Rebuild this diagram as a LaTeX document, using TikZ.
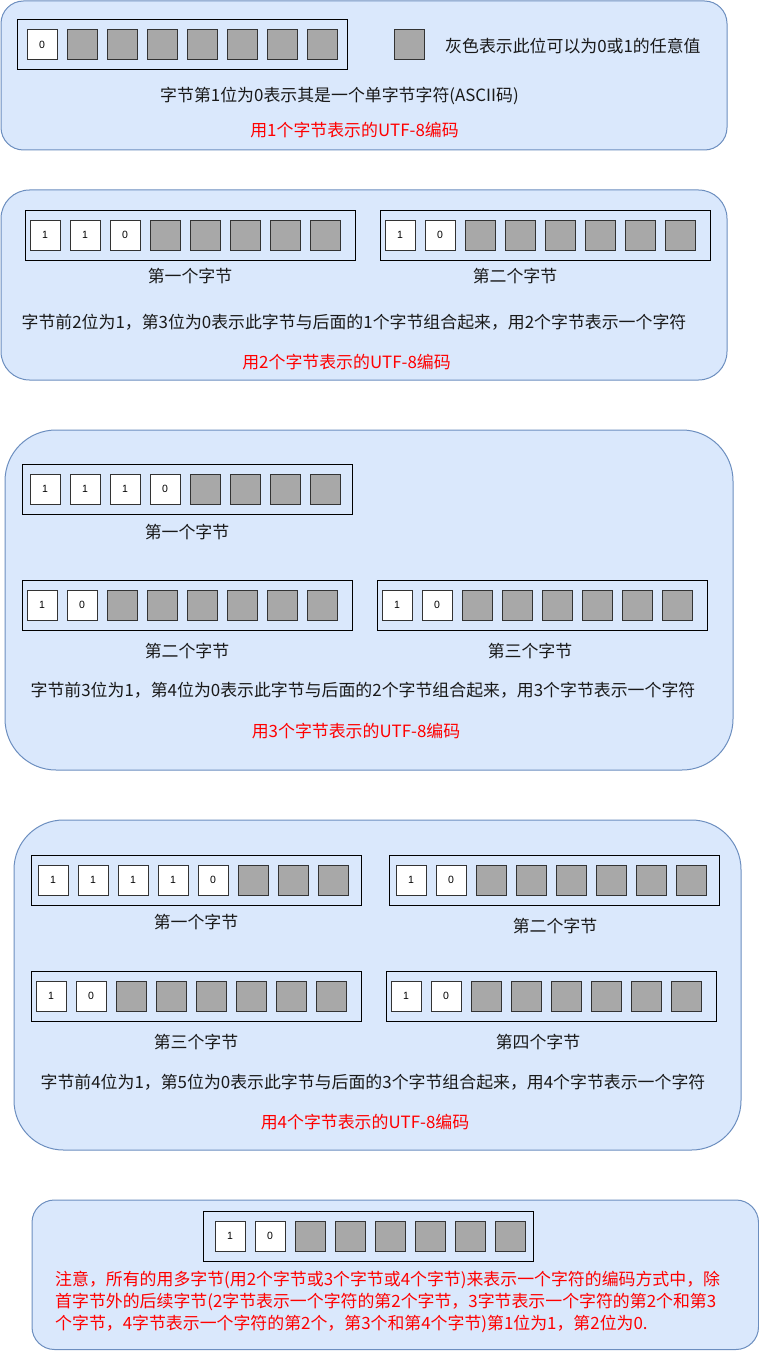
\documentclass[tikz,border=0pt]{standalone}
\usepackage{fontspec}
\setmainfont{Noto Sans CJK SC}
\newfontfamily\latfont{Liberation Sans}
\definecolor{panelfill}{HTML}{DAE8FC}
\definecolor{panelline}{HTML}{6C8EBF}
\definecolor{cellgray}{HTML}{A8A8A8}
\definecolor{redtxt}{HTML}{FF0000}
\tikzset{
  panel/.style={draw=panelline, fill=panelfill, line width=1pt},
  bytebox/.style={draw=black, line width=1pt, minimum width=330pt, minimum height=50pt, inner sep=0pt, outer sep=0pt},
  bitcell/.style={draw=black!80, line width=1pt, fill=white, minimum width=30pt, minimum height=30pt, inner sep=0pt, outer sep=0pt, font=\latfont\fontsize{10.5}{12}\selectfont},
  graycell/.style={bitcell, fill=cellgray},
  txt/.style={inner sep=0pt, font=\fontsize{16.9}{20}\selectfont, text=black!90},
  redlabel/.style={txt, text=redtxt},
}
% #1 name, #2 box left, #3 box top, #4 first cell offset, #5 number of white cells, #6 bits
\newcommand\mybyte[6]{%
  \node[bytebox, anchor=north west] (#1) at (#2,#3) {};
  \foreach \b [count=\i from 0] in {#6} {
    \node[bitcell, anchor=north west] (#1-\i) at ({#2+#4+40*\i},{#3+10}) {\b};
  }
  \foreach \i in {#5,...,7} {
    \node[graycell, anchor=north west] (#1-\i) at ({#2+#4+40*\i},{#3+10}) {};
  }
}
\begin{document}
\begin{tikzpicture}[x=1pt,y=-1pt]
\useasboundingbox (0,0) rectangle (759,1351);

% ---------- panel 1
\draw[panel, rounded corners=22.5pt] (1,1) rectangle (727,150);
\mybyte{a}{17}{20}{10}{1}{0}
\node[graycell, anchor=north west] (legcell) at (394,30) {};
\node[txt, anchor=west] (legtxt) at (445,46) {灰色表示此位可以为0或1的任意值};
\node[txt] (t1) at (339.5,96) {字节第1位为0表示其是一个单字节字符(ASCII码)};
\node[redlabel] (r1) at (354.5,130) {用1个字节表示的UTF-8编码};

% ---------- panel 2
\draw[panel, rounded corners=28.5pt] (1,190) rectangle (727,380);
\mybyte{b1}{25}{210}{5}{3}{1,1,0}
\mybyte{b2}{380}{210}{5}{2}{1,0}
\node[txt] (b1l) at (190,276) {第一个字节};
\node[txt] (b2l) at (515,276) {第二个字节};
\node[txt] (t2) at (354,322) {字节前2位为1，第3位为0表示此字节与后面的1个字节组合起来，用2个字节表示一个字符};
\node[redlabel] (r2) at (346.5,362) {用2个字节表示的UTF-8编码};

% ---------- panel 3
\draw[panel, rounded corners=51pt] (5,430) rectangle (733,770);
\mybyte{c1}{22}{464}{8}{4}{1,1,1,0}
\mybyte{c2}{22}{580}{5}{2}{1,0}
\mybyte{c3}{377}{580}{5}{2}{1,0}
\node[txt] (c1l) at (187,532) {第一个字节};
\node[txt] (c2l) at (187,651) {第二个字节};
\node[txt] (c3l) at (530,651) {第三个字节};
\node[txt] (t3) at (363,690) {字节前3位为1，第4位为0表示此字节与后面的2个字节组合起来，用3个字节表示一个字符};
\node[redlabel] (r3) at (356,731) {用3个字节表示的UTF-8编码};

% ---------- panel 4
\draw[panel, rounded corners=49.5pt] (14,820) rectangle (741,1150);
\mybyte{d1}{31}{855}{7}{5}{1,1,1,1,0}
\mybyte{d2}{389}{855}{7}{2}{1,0}
\mybyte{d3}{31}{971}{5}{2}{1,0}
\mybyte{d4}{386}{971}{5}{2}{1,0}
\node[txt] (d1l) at (196,922) {第一个字节};
\node[txt] (d2l) at (555,926) {第二个字节};
\node[txt] (d3l) at (196,1042) {第三个字节};
\node[txt] (d4l) at (538,1042) {第四个字节};
\node[txt] (t4) at (373,1082) {字节前4位为1，第5位为0表示此字节与后面的3个字节组合起来，用4个字节表示一个字符};
\node[redlabel] (r4) at (365,1122) {用4个字节表示的UTF-8编码};

% ---------- panel 5
\draw[panel, rounded corners=22.5pt] (32,1200) rectangle (758.5,1349.5);
\mybyte{e1}{203}{1211}{12}{2}{1,0}
\node[redlabel, anchor=west, align=left, font=\fontsize{16.9}{21.7}\selectfont] (note) at (55,1302) {注意，所有的用多字节(用2个字节或3个字节或4个字节)来表示一个字符的编码方式中，除\\首字节外的后续字节(2字节表示一个字符的第2个字节，3字节表示一个字符的第2个和第3\\个字节，4字节表示一个字符的第2个，第3个和第4个字节)第1位为1，第2位为0.};
\end{tikzpicture}
\end{document}
